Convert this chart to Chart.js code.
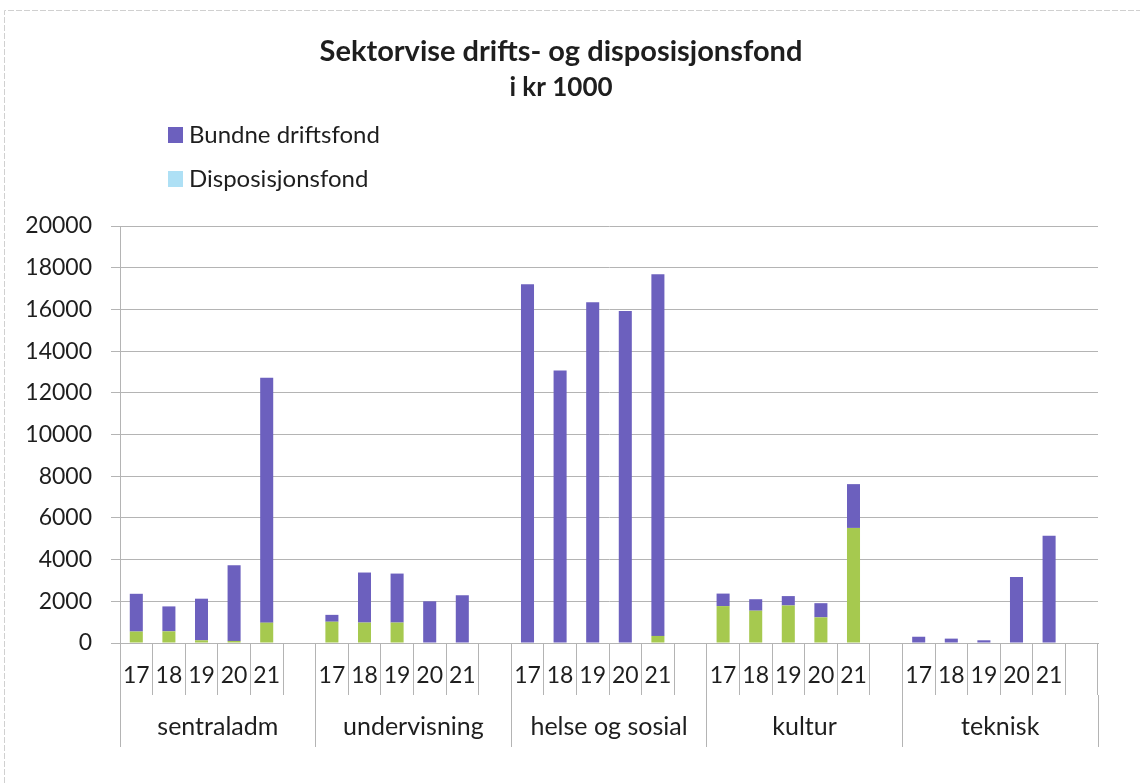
<!DOCTYPE html>
<html>
<head>
<meta charset="utf-8">
<script src="https://cdn.jsdelivr.net/npm/chart.js@4/dist/chart.umd.min.js"></script>
<style>
  html, body { margin: 0; padding: 0; background: #fff; }
  #wrap { width: 1140px; height: 783px; position: relative; }
</style>
</head>
<body>
<div id="wrap"><canvas id="graf"></canvas></div>
<script>
// =====================================================
// DATA
// =====================================================
const sektorer = ["sentraladm", "undervisning", "helse og sosial", "kultur", "teknisk"];
const aar = ["17", "18", "19", "20", "21"];

// bundne driftsfond per sektor og år (lest fra grafen)
const bundneDriftsfond = [
  [1810, 1195, 1995, 3630, 11745],     // sentraladm
  [330, 2400, 2350, 2000, 2290],       // undervisning
  [17210, 13070, 16340, 15920, 17350], // helse og sosial
  [600, 550, 450, 680, 2100],          // kultur
  [300, 210, 130, 3165, 5145]          // teknisk
];
const disposisjonsfond = [
  [550, 560, 130, 100, 975],
  [1020, 980, 980, 0, 0],
  [0, 0, 0, 0, 340],
  [1770, 1550, 1800, 1230, 5520],
  [0, 0, 0, 0, 0]
];

const yTicks = [0, 2000, 4000, 6000, 8000, 10000, 12000, 14000, 16000, 18000, 20000];

// =====================================================
// HELPERS
// =====================================================
// hver sektor får 6 plasser: 5 år + en tom
function flat(serie) {
  const ut = [];
  serie.forEach(rad => {
    rad.forEach(v => ut.push(v));
    ut.push(null);
  });
  return ut;
}

const aarLabels = [];
sektorer.forEach(() => {
  aar.forEach(a => aarLabels.push(a));
  aarLabels.push("");
});

const FONT = "Lato, 'Open Sans', sans-serif";
const LILLA = "#6c60be";
const GRONN = "#a6c94f";
const LYSBLA = "#aee0f5";
const GRID = "#b4b4b4";
const TEKST = "#1e1e1e";

// legende tegnet vertikalt, som i originalen
const legendePlugin = {
  id: "legende",
  afterDraw(chart) {
    const ctx = chart.ctx;
    const items = [
      { tekst: "Bundne driftsfond", farge: LILLA, y: 135 },
      { tekst: "Disposisjonsfond", farge: LYSBLA, y: 179 }
    ];
    ctx.save();
    ctx.font = "24px " + FONT;
    ctx.textBaseline = "middle";
    ctx.textAlign = "left";
    items.forEach(it => {
      ctx.fillStyle = it.farge;
      ctx.fillRect(168, it.y - 8, 15, 16);
      ctx.fillStyle = TEKST;
      ctx.fillText(it.tekst, 189, it.y);
    });
    ctx.restore();
  }
};

const rammePlugin = {
  id: "ramme",
  beforeDraw(chart) {
    const ctx = chart.ctx;
    ctx.save();
    ctx.strokeStyle = "#d0d0d0";
    ctx.lineWidth = 1;
    ctx.setLineDash([6, 2]);
    ctx.beginPath();
    ctx.moveTo(4.5, 783);
    ctx.lineTo(4.5, 10.5);
    ctx.lineTo(1140, 10.5);
    ctx.stroke();
    ctx.restore();
  }
};

// =====================================================
// CHART
// =====================================================
new Chart(document.getElementById("graf"), {
  type: "bar",
  data: {
    labels: aarLabels,
    datasets: [
      {
        label: "Disposisjonsfond",
        data: flat(disposisjonsfond),
        backgroundColor: GRONN,
        xAxisID: "x",
        barPercentage: 0.4,
        categoryPercentage: 1
      },
      {
        label: "Bundne driftsfond",
        data: flat(bundneDriftsfond),
        backgroundColor: LILLA,
        xAxisID: "x",
        barPercentage: 0.4,
        categoryPercentage: 1
      }
    ]
  },
  options: {
    responsive: true,
    maintainAspectRatio: false,
    animation: false,
    layout: { padding: { left: 24, right: 42, top: 0, bottom: 36 } },
    plugins: {
      legend: { display: false },
      tooltip: { enabled: false },
      title: {
        display: true,
        text: "Sektorvise drifts- og disposisjonsfond",
        color: TEKST,
        font: { family: FONT, size: 29, weight: "bold" },
        padding: { top: 34, bottom: 2 }
      },
      subtitle: {
        display: true,
        text: "i kr 1000",
        color: TEKST,
        font: { family: FONT, size: 26, weight: "bold" },
        padding: { top: 1, bottom: 123 }
      }
    },
    scales: {
      x: {
        type: "category",
        position: "bottom",
        stacked: true,
        offset: true,
        grid: {
          offset: true,
          drawOnChartArea: false,
          tickLength: 52,
          color: GRID
        },
        border: { color: GRID },
        ticks: {
          autoSkip: false,
          maxRotation: 0,
          padding: -33,
          color: TEKST,
          font: { family: FONT, size: 23 }
        },
        afterFit: s => { s.height = 52; }
      },
      gruppe: {
        type: "category",
        position: "bottom",
        labels: sektorer,
        offset: true,
        grid: {
          offset: true,
          drawOnChartArea: false,
          tickLength: 52,
          color: GRID
        },
        border: { display: false },
        ticks: {
          autoSkip: false,
          maxRotation: 0,
          padding: -35,
          color: TEKST,
          font: { family: FONT, size: 25 }
        },
        afterFit: s => { s.height = 52; }
      },
      y: {
        stacked: true,
        min: 0,
        max: 20000,
        afterBuildTicks: s => { s.ticks = yTicks.map(v => ({ value: v })); },
        grid: { color: GRID, tickLength: 9 },
        border: { color: GRID },
        ticks: {
          padding: 19,
          color: TEKST,
          font: { family: FONT, size: 23 },
          callback: v => String(v)
        },
        afterFit: s => { s.width = 96; }
      }
    }
  },
  plugins: [rammePlugin, legendePlugin]
});
</script>
</body>
</html>
